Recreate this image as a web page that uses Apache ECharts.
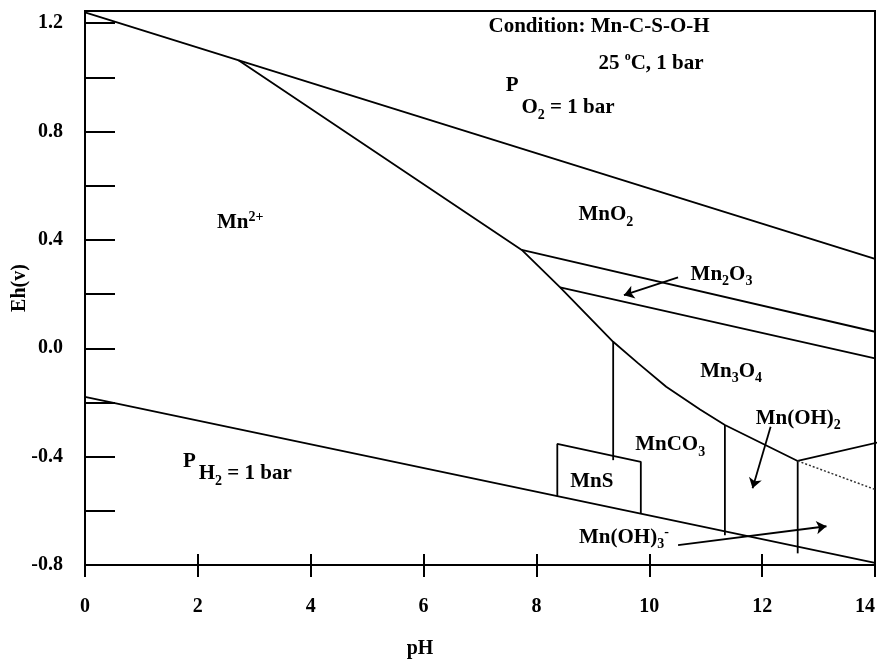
<!DOCTYPE html>
<html>
<head>
<meta charset="utf-8">
<script src="https://cdn.jsdelivr.net/npm/echarts@6.0.0/dist/echarts.min.js"></script>
<style>html,body{margin:0;padding:0;background:#fff}#c{width:881px;height:659px}</style>
</head>
<body>
<div id="c"></div>
<script>
// ---- axes ----
const xMin = 0, xMax = 14, xStep = 2;
const yMin = -0.8, yMax = 1.245, yStep = 0.2;
const yLabelValues = [-0.8, -0.4, 0.0, 0.4, 0.8, 1.2];
const xName = 'pH';
const yName = 'Eh(v)';

// ---- boundary lines (pH, Eh) ----
const o2Line = [[0, 1.24], [14, 0.33]];
const h2Line = [[0, -0.179], [14, -0.792]];
const mn2Boundary = [[2.72, 1.063], [7.74, 0.363], [8.42, 0.225], [9.36, 0.024], [9.8, -0.055], [10.3, -0.142], [10.9, -0.226], [11.34, -0.283], [12.63, -0.416]];
const mno2Mn2o3 = [[7.74, 0.363], [14, 0.061]];
const mn2o3Mn3o4 = [[8.42, 0.225], [14, -0.037]];
const mnco3Left = [[9.36, 0.024], [9.36, -0.413]];
const mnsBox = [[8.37, -0.546], [8.37, -0.353], [9.85, -0.419], [9.85, -0.612]];
const mnoh2Left = [[11.34, -0.283], [11.34, -0.69]];
const mnoh2Right = [[12.63, -0.416], [12.63, -0.757]];
const mnoh2Top = [[12.63, -0.416], [14.1, -0.345]];
const dottedLine = [[12.63, -0.416], [14, -0.521]];

// ---- arrows (from, to) ----
const arrowMn2o3 = [[10.51, 0.262], [9.55, 0.196]];
const arrowMnoh2 = [[12.15, -0.29], [11.83, -0.517]];
const arrowMnoh3 = [[10.51, -0.727], [13.14, -0.657]];

// ---- text annotations ----
const labelTexts = [
  '{m|Condition: Mn-C-S-O-H}',
  '{m|25 }{deg|o}{m|C, 1 bar}',
  '{pO|P} {m|O}{sub|2}{m| = 1 bar}',
  '{pH|P} {m|H}{sub|2}{m| = 1 bar}',
  '{m|Mn}{sup|2+}',
  '{m|MnO}{sub|2}',
  '{m|Mn}{sub|2}{m|O}{sub|3}',
  '{m|Mn}{sub|3}{m|O}{sub|4}',
  '{m|Mn(OH)}{sub|2}',
  '{m|MnCO}{sub|3}',
  '{m|MnS}',
  '{m|Mn(OH)}{sub|3}{sup|-}'
];
const labelPos = [
  [9.11, 1.186],
  [10.03, 1.05],
  [8.42, 0.887],
  [2.70, -0.464],
  [2.75, 0.463],
  [9.23, 0.492],
  [11.28, 0.271],
  [11.45, -0.085],
  [12.64, -0.258],
  [10.37, -0.357],
  [8.98, -0.493],
  [9.55, -0.697]
];

const F = 'Liberation Serif';
const BLACK = '#000';
const lineW = 1.8;
const AF = 21; // annotation font size

function boundary(data, extra) {
  return Object.assign({
    type: 'line', data: data, symbol: 'none', silent: true,
    lineStyle: { color: BLACK, width: lineW }, z: 3
  }, extra || {});
}
function arrow(coords) {
  return {
    type: 'lines', coordinateSystem: 'cartesian2d', silent: true,
    symbol: ['none', 'arrow'], symbolSize: 10,
    lineStyle: { color: BLACK, width: lineW, opacity: 1 },
    data: [{ coords: coords }], z: 4
  };
}

function tok(size, pad) {
  return { fontSize: size, fontWeight: 'bold', fontFamily: F, color: BLACK,
           textBorderWidth: 0, textBorderColor: 'transparent', padding: pad || [0, 0, 0, 0] };
}
const rich = {
  m: tok(AF),
  sub: tok(14, [14, 0, 0, 0]),
  sup: tok(14, [0, 0, 10, 0]),
  deg: tok(12, [0, 0, 14, 0]),
  pO: tok(AF, [0, 0, 44, 0]),
  pH: tok(AF, [0, 0, 24, 0])
};

const chart = echarts.init(document.getElementById('c'), null, { renderer: 'canvas' });
chart.setOption({
  animation: false,
  backgroundColor: '#fff',
  textStyle: { fontFamily: F, color: BLACK },
  grid: {
    left: 85, right: 6, top: 11, bottom: 94,
    show: true, borderColor: BLACK, borderWidth: 2,
    containLabel: false, outerBoundsMode: 'none'
  },
  xAxis: [{
    type: 'value', min: xMin, max: xMax, interval: xStep, position: 'bottom',
    name: xName, nameLocation: 'middle', nameGap: 74, nameMoveOverlap: false,
    nameTextStyle: { fontSize: 20, fontWeight: 'bold', fontFamily: F, color: BLACK, padding: [0, 120, 0, 0] },
    axisLine: { show: true, onZero: false, lineStyle: { color: BLACK, width: 2 } },
    axisTick: { show: true, inside: true, length: 11, lineStyle: { color: BLACK, width: 2 } },
    axisLabel: { show: true, margin: 32, fontSize: 20, fontWeight: 'bold', fontFamily: F, color: BLACK, alignMaxLabel: 'right' },
    splitLine: { show: false }
  }, {
    type: 'value', min: xMin, max: xMax, interval: xStep, position: 'bottom',
    axisLine: { show: false, onZero: false },
    axisTick: { show: true, inside: false, length: 12, lineStyle: { color: BLACK, width: 2 } },
    axisLabel: { show: false },
    splitLine: { show: false }
  }],
  yAxis: {
    type: 'value', min: yMin, max: yMax, interval: yStep,
    name: yName, nameLocation: 'middle', nameGap: 55, nameRotate: 90, nameMoveOverlap: false,
    nameTextStyle: { fontSize: 20, fontWeight: 'bold', fontFamily: F, color: BLACK },
    axisLine: { show: true, onZero: false, lineStyle: { color: BLACK, width: 2 } },
    axisTick: { show: true, inside: true, length: 30, lineStyle: { color: BLACK, width: 2 } },
    axisLabel: {
      show: true, margin: 22, fontSize: 20, fontWeight: 'bold', fontFamily: F, color: BLACK,
      showMaxLabel: false,
      formatter: function (v) {
        for (const t of yLabelValues) { if (Math.abs(v - t) < 1e-6) return t.toFixed(1); }
        return '';
      }
    },
    splitLine: { show: false }
  },
  series: [
    boundary(o2Line),
    boundary(h2Line),
    boundary(mn2Boundary),
    boundary(mno2Mn2o3),
    boundary(mn2o3Mn3o4),
    boundary(mnco3Left),
    boundary(mnsBox),
    boundary(mnoh2Left),
    boundary(mnoh2Right),
    boundary(mnoh2Top, { clip: false }),
    boundary(dottedLine, { lineStyle: { color: '#333', width: 1.5, type: [2, 2] } }),
    arrow(arrowMn2o3),
    arrow(arrowMnoh2),
    arrow(arrowMnoh3),
    {
      type: 'scatter', symbolSize: 0, silent: true, z: 10,
      itemStyle: { color: BLACK, opacity: 1 },
      data: labelPos.map(function (p, i) { return { value: p, label: { formatter: labelTexts[i] } }; }),
      label: { show: true, position: 'inside', color: BLACK, opacity: 1, textBorderWidth: 0, rich: rich }
    }
  ]
});
</script>
</body>
</html>
